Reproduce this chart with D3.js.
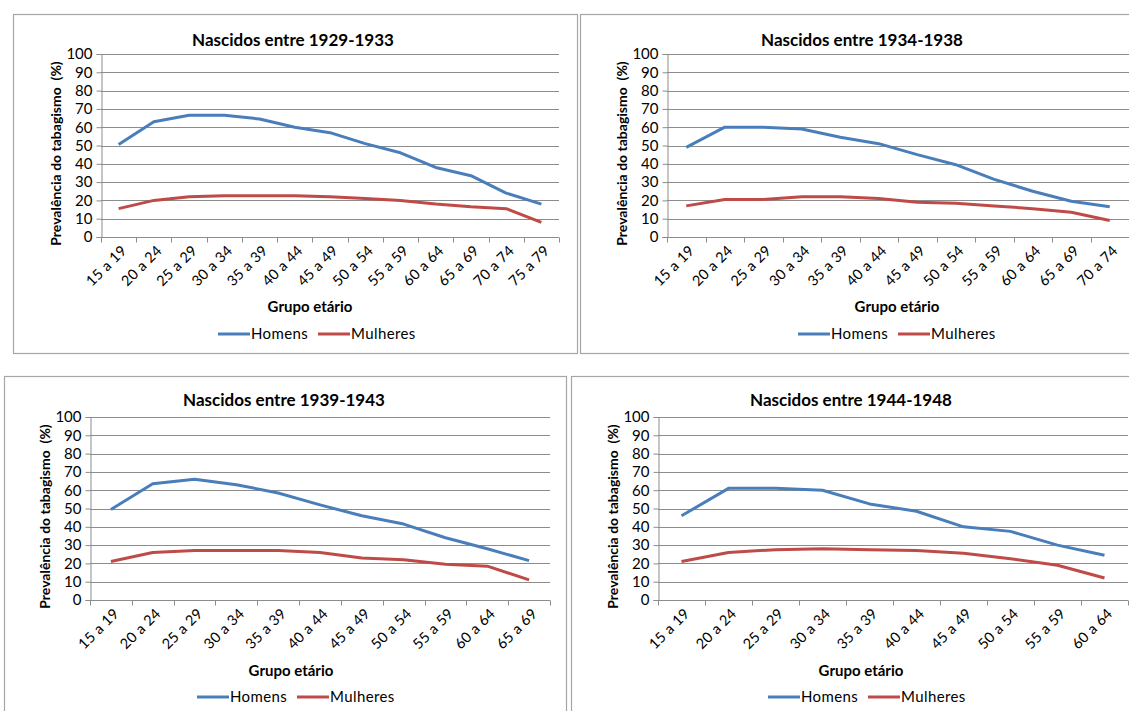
<!DOCTYPE html>
<html><head><meta charset="utf-8">
<script src="https://cdn.jsdelivr.net/npm/d3@7"></script>
<style>
body{margin:0;background:#fff;}
text{font-family:Lato,"Open Sans",sans-serif;fill:#000;}
</style></head>
<body><svg id="c" width="1129" height="711"></svg>
<script>
// ---- data ----
const ageGroups = ["15 a 19","20 a 24","25 a 29","30 a 34","35 a 39","40 a 44","45 a 49","50 a 54","55 a 59","60 a 64","65 a 69","70 a 74","75 a 79"];
const titles = ["Nascidos entre 1929-1933","Nascidos entre 1934-1938","Nascidos entre 1939-1943","Nascidos entre 1944-1948"];
const homens1929 = [50.5,63,66.5,66.5,64.5,60,57,51,46,38,33.5,24,18];
const mulheres1929 = [15.5,20,22,22.5,22.5,22.5,22,21,20,18,16.5,15.5,8];
const homens1934 = [49,60,60,59,54.5,51,45,39.5,31.5,25,19.5,16.5];
const mulheres1934 = [17,20.5,20.5,22,22,21,19,18.5,17,15.5,13.5,9];
const homens1939 = [49.5,63.5,66,63,58.5,52,46,41.5,34,28,21.5];
const mulheres1939 = [21,26,27,27,27,26,23,22,19.5,18.5,11];
const homens1944 = [46,61,61,60,52.5,48.5,40,37.5,30,24.5];
const mulheres1944 = [21,26,27.5,28,27.5,27,25.5,22.5,19,12];
const yTicks = [0,10,20,30,40,50,60,70,80,90,100];
const seriesNames = ["Homens","Mulheres"];
const seriesColors = ["#4a7ebb","#be4b48"];
const yTitle = "Prevalência do tabagismo  (%)";
const xTitle = "Grupo etário";

const seriesData = [[homens1929,mulheres1929],[homens1934,mulheres1934],[homens1939,mulheres1939],[homens1944,mulheres1944]];

// ---- layout ----
const layout = [
  {box:[13,14,564,339], plot:[101,54,559,237], titleX:293, titleY:46, xtY:312, xtX:310, legY:334, legX:316},
  {box:[580,14,570,339], plot:[667,54,1129,237], titleX:862, titleY:46, xtY:312, xtX:897, legY:334, legX:896},
  {box:[4,376,562,340], plot:[90,417,550,600], titleX:284, titleY:406, xtY:676, xtX:291, legY:697, legX:295},
  {box:[571,376,570,340], plot:[658,417,1128,600], titleX:851, titleY:406, xtY:676, xtX:861, legY:697, legX:866}
];

const svg = d3.select("#c");
const gridColor = "#8c8c8c";

layout.forEach((L,i)=>{
  const g = svg.append("g");
  g.append("rect").attr("x",L.box[0]+0.5).attr("y",L.box[1]+0.5).attr("width",L.box[2]).attr("height",L.box[3])
    .attr("fill","#fff").attr("stroke","#a6a6a6").attr("stroke-width",1.2);
  const n = seriesData[i][0].length;
  const cats = ageGroups.slice(0,n);
  const x = d3.scaleBand().domain(cats).range([L.plot[0],L.plot[2]]);
  const y = d3.scaleLinear().domain([0,100]).range([L.plot[3],L.plot[1]]);

  // gridlines
  g.append("g").selectAll("line").data(yTicks.filter(t=>t>0)).join("line")
    .attr("x1",L.plot[0]).attr("x2",L.plot[2])
    .attr("y1",d=>Math.round(y(d))+0.5).attr("y2",d=>Math.round(y(d))+0.5)
    .attr("stroke",gridColor).attr("stroke-width",1);

  // y axis
  const ya = g.append("g").attr("transform",`translate(${Math.round(L.plot[0])+0.5},0)`)
    .call(d3.axisLeft(y).tickValues(yTicks).tickSize(5).tickPadding(4));
  ya.select(".domain").attr("stroke",gridColor);
  ya.selectAll(".tick line").attr("stroke",gridColor);
  ya.selectAll(".tick text").style("font-size","15px").attr("fill","#000");

  // x axis
  const xa = g.append("g").attr("transform",`translate(0,${Math.round(L.plot[3])+0.5})`)
    .call(d3.axisBottom(x).tickSize(0).tickFormat(d=>d));
  xa.select(".domain").attr("stroke",gridColor).attr("d",`M${L.plot[0]},0H${L.plot[2]}`);
  xa.selectAll(".tick text").style("font-size","14.5px").style("letter-spacing","0.3px").attr("fill","#000")
    .attr("text-anchor","end").attr("dy",0).attr("y",0)
    .attr("transform","translate(9,14) rotate(-45)");
  // boundary ticks
  const bounds = d3.range(n+1).map(k=>L.plot[0]+k*x.bandwidth());
  xa.append("g").selectAll("line").data(bounds).join("line")
    .attr("x1",d=>Math.round(d)+0.5).attr("x2",d=>Math.round(d)+0.5).attr("y1",0).attr("y2",5)
    .attr("stroke",gridColor);

  // lines
  const line = d3.line().x((d,k)=>x(cats[k])+x.bandwidth()/2).y(d=>y(d));
  seriesData[i].forEach((s,j)=>{
    g.append("path").datum(s).attr("d",line).attr("fill","none")
      .attr("stroke",seriesColors[j]).attr("stroke-width",3).attr("stroke-linejoin","round");
  });

  // titles
  g.append("text").attr("x",L.titleX).attr("y",L.titleY).attr("text-anchor","middle")
    .style("font-size","17px").style("font-weight","bold").text(titles[i]);
  g.append("text").attr("x",L.xtX).attr("y",L.xtY).attr("text-anchor","middle")
    .style("font-size","15px").style("font-weight","bold").text(xTitle);
  const yc = (L.plot[1]+L.plot[3])/2+8;
  g.append("text").attr("transform",`translate(${L.plot[0]-40},${yc}) rotate(-90)`).attr("text-anchor","middle")
    .style("font-size","14px").style("font-weight","bold").style("white-space","pre").text(yTitle);

  // legend
  const lg = g.append("g").attr("transform",`translate(${L.legX-98},${L.legY})`);
  const offs = [0,100];
  seriesNames.forEach((nm,j)=>{
    lg.append("line").attr("x1",offs[j]).attr("x2",offs[j]+32).attr("y1",0).attr("y2",0)
      .attr("stroke",seriesColors[j]).attr("stroke-width",3);
    lg.append("text").attr("x",offs[j]+33).attr("y",5).style("font-size","15px").style("letter-spacing","0.4px").text(nm);
  });
});
</script></body></html>
